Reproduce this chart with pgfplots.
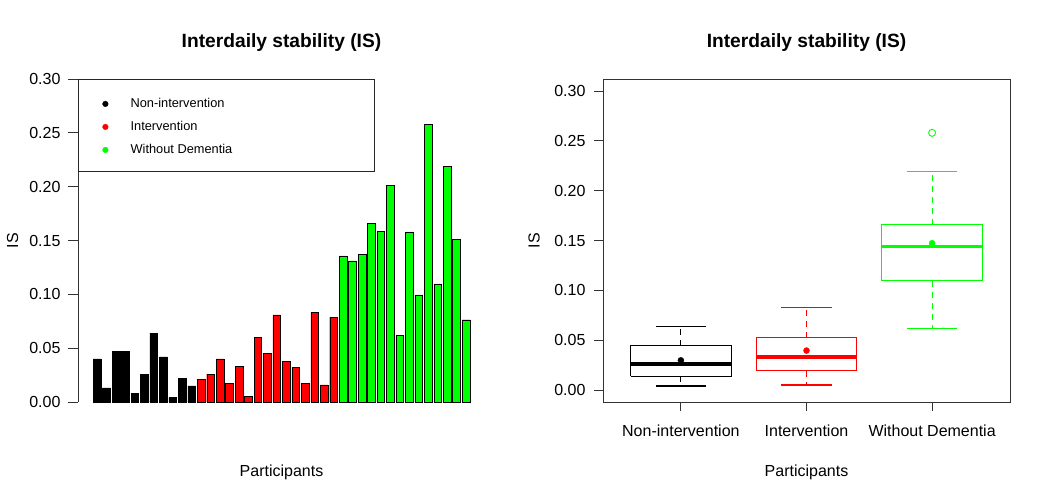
\documentclass[border=0pt]{standalone}
\usepackage{fontspec}
\setmainfont{Liberation Sans}
\usepackage{pgfplots}
\usepackage{pgfplotstable}
\pgfplotsset{compat=1.18}

\definecolor{rgreen}{RGB}{0,255,0}
\definecolor{rred}{RGB}{255,0,0}

% bar positions 0..39 (index), IS values
\pgfplotstableread{
x y
0 0.0400
1 0.0130
2 0.0470
3 0.0470
4 0.0080
5 0.0260
6 0.0640
7 0.0420
8 0.0040
9 0.0220
10 0.0150
}\nonint
\pgfplotstableread{
x y
11 0.0210
12 0.0260
13 0.0400
14 0.0176
15 0.0330
16 0.0050
17 0.0600
18 0.0450
19 0.0810
20 0.0380
21 0.0325
22 0.0176
23 0.0830
24 0.0158
25 0.0787
}\inter
\pgfplotstableread{
x y
26 0.1356
27 0.1310
28 0.1370
29 0.1656
30 0.1585
31 0.2015
32 0.0620
33 0.1580
34 0.0994
35 0.2580
36 0.1096
37 0.2190
38 0.1510
39 0.0764
}\nodem

\pgfplotsset{
  whisk/.style={line width=1.1pt, dash pattern=on 6pt off 5pt},
  boxln/.style={line width=1.1pt, solid},
  every axis title/.style={at={(axis description cs:0.5,1.0981)}, anchor=base,
    font=\fontsize{19.2}{23}\selectfont\bfseries},
}

\begin{document}
\begin{tikzpicture}[x=1pt,y=1pt]
\useasboundingbox (0,0) rectangle (1050,500);

% ---------------- left panel: bars ----------------
\begin{axis}[
  at={(78pt,98pt)}, anchor=south west,
  scale only axis, width=407pt, height=323pt,
  xmin=-2.01, xmax=41.01, ymin=0, ymax=0.3,
  clip=false,
  axis x line=bottom, axis y line=left,
  axis line style={-, black!80, line width=0.9pt},
  x axis line style={draw=none},
  tick align=outside, major tick length=10pt,
  tick style={black!80, line width=0.9pt},
  xtick=\empty,
  ytick={0,0.05,0.1,0.15,0.2,0.25,0.3},
  yticklabel style={xshift=-4pt, /pgf/number format/.cd, fixed, fixed zerofill, precision=2, assume math mode=true},
  tick label style={font=\fontsize{16}{19}\selectfont},
  title={Interdaily stability (IS)},
  xlabel={Participants},
  xlabel style={font=\fontsize{16}{19}\selectfont, at={(axis description cs:0.5,-0.2167)}, anchor=center},
  ylabel={IS},
  ylabel style={font=\fontsize{16}{19}\selectfont, at={(axis description cs:-0.1607,0.5)}, anchor=center},
  legend style={draw=none, fill=none, at={(axis description cs:0.0595,0.9417)}, anchor=north west,
    inner xsep=0pt, inner ysep=0pt, row sep=11.2pt, column sep=22.2pt,
    font=\fontsize{12.8}{15}\selectfont,
    nodes={inner sep=0pt, text height=9.2pt, text depth=2.6pt}},
  legend cell align=left,
]
\addplot[ybar, bar width=0.81, bar shift=0pt, fill=black, draw=black, line width=0.4pt,
  legend image code/.code={\fill[black] (2.8pt,0pt) circle (2.8pt);}] table[x=x,y=y] {\nonint};
\addlegendentry{Non-intervention}
\addplot[ybar, bar width=0.81, bar shift=0pt, fill=rred, draw=black, line width=0.4pt,
  legend image code/.code={\fill[rred] (2.8pt,0pt) circle (2.8pt);}] table[x=x,y=y] {\inter};
\addlegendentry{Intervention}
\addplot[ybar, bar width=0.81, bar shift=0pt, fill=rgreen, draw=black, line width=0.4pt,
  legend image code/.code={\fill[rgreen] (2.8pt,0pt) circle (2.8pt);}] table[x=x,y=y] {\nodem};
\addlegendentry{Without Dementia}
\draw[black!85, line width=0.9pt] (axis description cs:0,1) rectangle (axis description cs:0.7273,0.7152);
\end{axis}

% ---------------- right panel: boxplots ----------------
\begin{axis}[
  at={(603pt,98pt)}, anchor=south west,
  scale only axis, width=407pt, height=323pt,
  xmin=0.38, xmax=3.62, ymin=-0.012, ymax=0.312,
  axis line style={black!80, line width=0.9pt},
  tick pos=left, tick align=outside, major tick length=9pt,
  tick style={black!80, line width=0.9pt},
  xtick={1,2,3},
  xticklabels={Non-intervention, Intervention, Without Dementia},
  xticklabel style={yshift=-10.5pt},
  ytick={0,0.05,0.1,0.15,0.2,0.25,0.3},
  yticklabel style={xshift=-5pt, /pgf/number format/.cd, fixed, fixed zerofill, precision=2, assume math mode=true},
  tick label style={font=\fontsize{16}{19}\selectfont},
  title={Interdaily stability (IS)},
  xlabel={Participants},
  xlabel style={font=\fontsize{16}{19}\selectfont, at={(axis description cs:0.5,-0.2167)}, anchor=center},
  ylabel={IS},
  ylabel style={font=\fontsize{16}{19}\selectfont, at={(axis description cs:-0.1695,0.5)}, anchor=center},
]
% --- Non-intervention (black): lw 0.004, q1 0.014, med 0.026, q3 0.0445, uw 0.064
\addplot[black, whisk] coordinates {(1,0.0445) (1,0.064)};
\addplot[black, whisk] coordinates {(1,0.014) (1,0.004)};
\addplot[black, boxln] coordinates {(0.8,0.064) (1.2,0.064)};
\addplot[black, boxln] coordinates {(0.8,0.004) (1.2,0.004)};
\addplot[black, boxln] coordinates {(0.6,0.014) (1.4,0.014) (1.4,0.0445) (0.6,0.0445) (0.6,0.014)};
\addplot[black, line width=3.5pt] coordinates {(0.6,0.026) (1.4,0.026)};
% --- Intervention (red): lw 0.005, q1 0.0193, med 0.033, q3 0.0525, uw 0.083
\addplot[rred, whisk] coordinates {(2,0.0525) (2,0.083)};
\addplot[rred, whisk] coordinates {(2,0.0193) (2,0.005)};
\addplot[rred, boxln] coordinates {(1.8,0.083) (2.2,0.083)};
\addplot[rred, boxln] coordinates {(1.8,0.005) (2.2,0.005)};
\addplot[rred, boxln] coordinates {(1.6,0.0193) (2.4,0.0193) (2.4,0.0525) (1.6,0.0525) (1.6,0.0193)};
\addplot[rred, line width=3.5pt] coordinates {(1.6,0.033) (2.4,0.033)};
% --- Without Dementia (green): lw 0.062, q1 0.1096, med 0.144, q3 0.1656, uw 0.219
\addplot[rgreen, whisk] coordinates {(3,0.1656) (3,0.219)};
\addplot[rgreen, whisk] coordinates {(3,0.1096) (3,0.062)};
\addplot[rgreen, boxln] coordinates {(2.8,0.219) (3.2,0.219)};
\addplot[rgreen, boxln] coordinates {(2.8,0.062) (3.2,0.062)};
\addplot[rgreen, boxln] coordinates {(2.6,0.1096) (3.4,0.1096) (3.4,0.1656) (2.6,0.1656) (2.6,0.1096)};
\addplot[rgreen, line width=3.5pt] coordinates {(2.6,0.144) (3.4,0.144)};
% outlier
\addplot[only marks, mark=o, mark size=3.5pt, draw=rgreen, line width=0.9pt] coordinates {(3,0.258)};
% means
\addplot[only marks, mark=*, mark size=3pt, black] coordinates {(1,0.0298)};
\addplot[only marks, mark=*, mark size=3pt, rred, mark options={fill=rred}] coordinates {(2,0.0396)};
\addplot[only marks, mark=*, mark size=3pt, rgreen, mark options={fill=rgreen}] coordinates {(3,0.1473)};
\end{axis}
\end{tikzpicture}
\end{document}
